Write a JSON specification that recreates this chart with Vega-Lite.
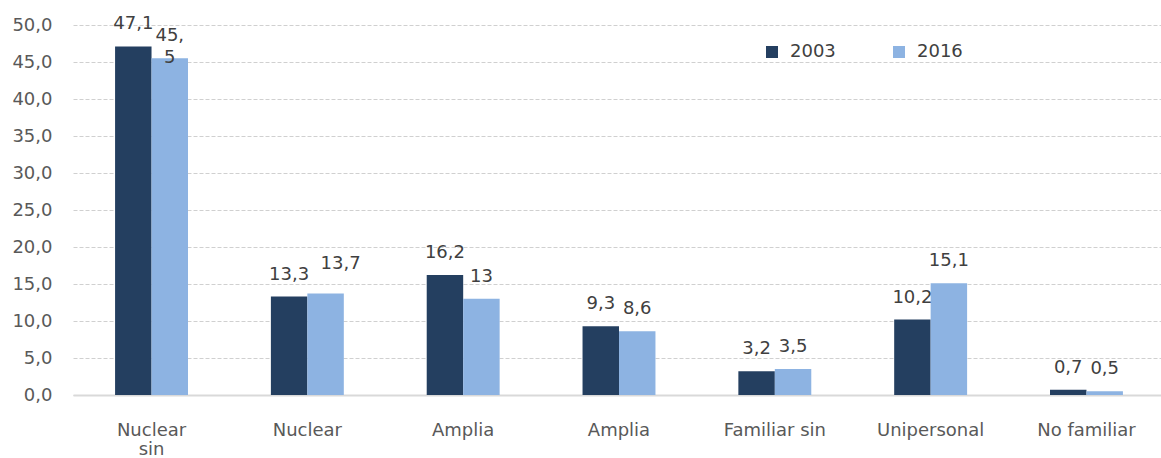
{
  "$schema": "https://vega.github.io/schema/vega-lite/v6.json",
  "width": 1092,
  "height": 370,
  "autosize": {"type": "none"},
  "padding": {"left": 73, "top": 25, "right": 0, "bottom": 63},
  "background": "#ffffff",
  "config": {
    "view": {"stroke": null},
    "font": "DejaVu Sans"
  },
  "data": {
    "values": [
      {"categoria": "Nuclear sin", "anio": "2003", "valor": 47.1, "etiqueta": "47,1"},
      {"categoria": "Nuclear sin", "anio": "2016", "valor": 45.5, "etiqueta": "45,\n5"},
      {"categoria": "Nuclear", "anio": "2003", "valor": 13.3, "etiqueta": "13,3"},
      {"categoria": "Nuclear", "anio": "2016", "valor": 13.7, "etiqueta": "13,7"},
      {"categoria": "Amplia", "anio": "2003", "valor": 16.2, "etiqueta": "16,2"},
      {"categoria": "Amplia", "anio": "2016", "valor": 13.0, "etiqueta": "13"},
      {"categoria": "Amplia ", "anio": "2003", "valor": 9.3, "etiqueta": "9,3"},
      {"categoria": "Amplia ", "anio": "2016", "valor": 8.6, "etiqueta": "8,6"},
      {"categoria": "Familiar sin", "anio": "2003", "valor": 3.2, "etiqueta": "3,2"},
      {"categoria": "Familiar sin", "anio": "2016", "valor": 3.5, "etiqueta": "3,5"},
      {"categoria": "Unipersonal", "anio": "2003", "valor": 10.2, "etiqueta": "10,2"},
      {"categoria": "Unipersonal", "anio": "2016", "valor": 15.1, "etiqueta": "15,1"},
      {"categoria": "No familiar", "anio": "2003", "valor": 0.7, "etiqueta": "0,7"},
      {"categoria": "No familiar", "anio": "2016", "valor": 0.5, "etiqueta": "0,5"}
    ]
  },
  "encoding": {
    "x": {
      "field": "categoria",
      "type": "nominal",
      "sort": null,
      "scale": {"paddingInner": 0.532, "paddingOuter": 0.27},
      "axis": {
        "title": null,
        "ticks": false,
        "domain": true,
        "domainColor": "#d9d9d9",
        "domainWidth": 2,
        "labelAngle": 0,
        "labelPadding": 26,
        "labelFontSize": 18,
        "labelColor": "#595959",
        "labelLineHeight": 19,
        "labelOverlap": false,
        "labelExpr": "datum.value == 'Nuclear sin' ? ['Nuclear', 'sin'] : datum.value"
      }
    },
    "xOffset": {"field": "anio", "type": "nominal", "scale": {"paddingInner": 0}},
    "y": {
      "field": "valor",
      "type": "quantitative",
      "scale": {"domain": [0, 50]},
      "axis": {
        "title": null,
        "domain": false,
        "ticks": false,
        "grid": true,
        "gridDash": [4, 2],
        "gridColor": "#d0d0d0",
        "gridWidth": 1,
        "labelPadding": 21,
        "labelFontSize": 18,
        "labelColor": "#595959",
        "values": [0, 5, 10, 15, 20, 25, 30, 35, 40, 45, 50],
        "labelExpr": "replace(format(datum.value, '.1f'), '.', ',')"
      }
    }
  },
  "layer": [
    {
      "mark": {"type": "bar"},
      "encoding": {
        "color": {
          "field": "anio",
          "type": "nominal",
          "scale": {"domain": ["2003", "2016"], "range": ["#243F60", "#8DB3E2"]},
          "legend": {
            "title": null,
            "orient": "none",
            "legendX": 690,
            "legendY": 18,
            "direction": "horizontal",
            "symbolType": "square",
            "symbolSize": 144,
            "symbolStrokeWidth": 0,
            "labelFontSize": 18,
            "labelColor": "#404040",
            "labelOffset": 9,
            "columnPadding": 54,
            "padding": 0
          }
        }
      }
    },
    {
      "transform": [{"filter": "!(datum.categoria == 'Nuclear' && datum.anio == '2016')"}],
      "mark": {
        "type": "text",
        "baseline": "alphabetic",
        "dy": -17,
        "lineBreak": "\n",
        "lineHeight": 22,
        "fontSize": 18,
        "color": "#404040"
      },
      "encoding": {
        "text": {"field": "etiqueta"}
      }
    },
    {
      "transform": [{"filter": "datum.categoria == 'Nuclear' && datum.anio == '2016'"}],
      "mark": {
        "type": "text",
        "baseline": "alphabetic",
        "dx": 15,
        "dy": -25,
        "fontSize": 18,
        "color": "#404040"
      },
      "encoding": {
        "text": {"field": "etiqueta"}
      }
    }
  ]
}
